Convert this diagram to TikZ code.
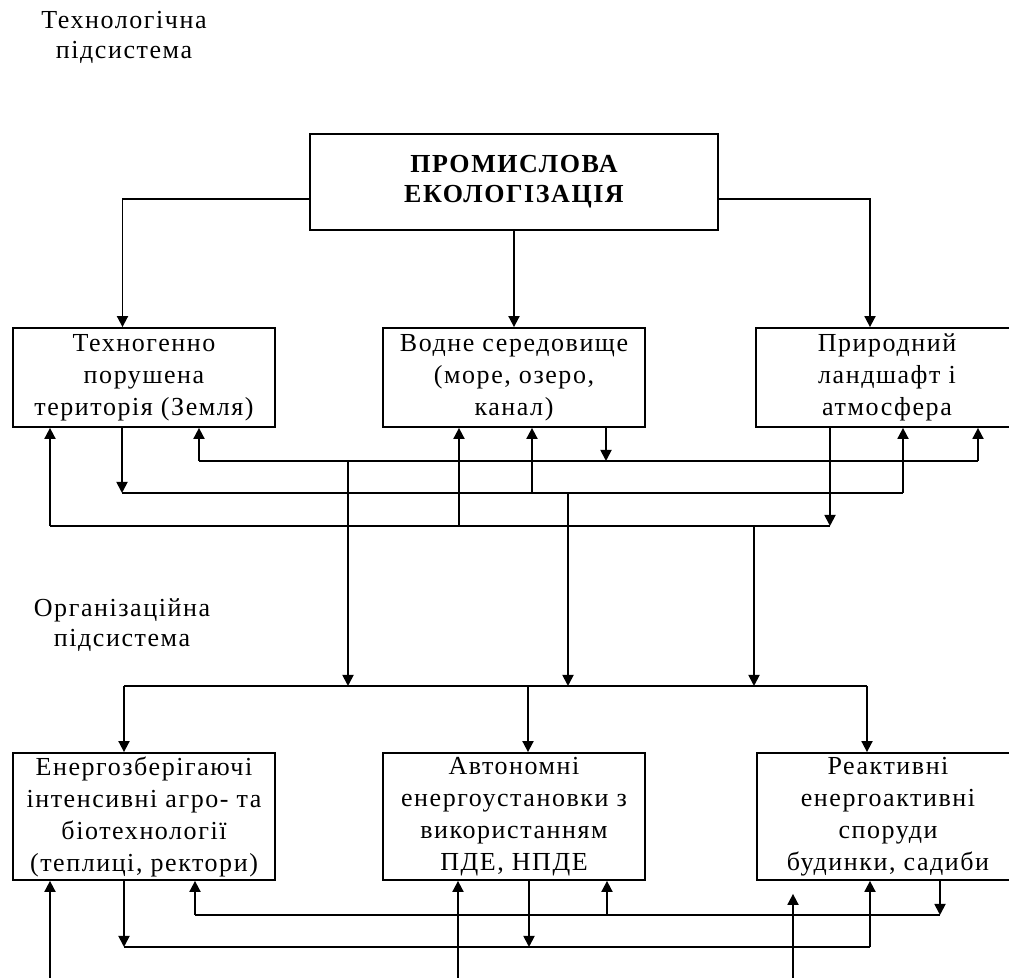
\documentclass[tikz,border=0pt]{standalone}
\usepackage{fontspec}
\setmainfont{Liberation Serif}[LetterSpace=6]
\usepackage{tikz}
\usetikzlibrary{arrows.meta}
\tikzstyle{box} = [rectangle, minimum width=131pt, minimum height=49.5pt, inner sep=0pt, align=center, draw=black, line width=0.9pt]
\tikzstyle{tallbox} = [box, minimum height=63.5pt]
\tikzstyle{mainbox} = [box, minimum width=204pt, minimum height=48pt, font=\bfseries\fontsize{13}{15}\selectfont]
\tikzstyle{caption} = [align=center, inner sep=0pt, font=\fontsize{13}{15}\selectfont]
\tikzstyle{bus} = [line width=0.9pt]
\tikzstyle{arrow} = [line width=0.9pt,-{Triangle[length=5.5pt,width=5.5pt]}]

\begin{document}
\begin{tikzpicture}[node distance=185pt, font=\fontsize{13}{16}\selectfont]
\useasboundingbox (0,0) rectangle (504.5pt,-489pt);

\node [box] (water) at (257pt,-188.75pt) {Водне середовище\\(море, озеро,\\канал)};
\node [box, left of=water] (land) {Техногенно\\порушена\\територія (Земля)};
\node [box, right of=water, xshift=1.5pt] (nature) {Природний\\ландшафт і\\атмосфера};
\node [mainbox, above of=water, yshift=-87.25pt] (prom) {ПРОМИСЛОВА\\ЕКОЛОГІЗАЦІЯ};

\node [tallbox, below of=water, yshift=-34.5pt] (auto) {Автономні\\енергоустановки з\\використанням\\ПДЕ, НПДЕ};
\node [tallbox, left of=auto] (agro) {Енергозберігаючі\\інтенсивні агро- та\\біотехнології\\(теплиці, ректори)};
\node [tallbox, right of=auto, xshift=2pt] (react) {Реактивні\\енергоактивні\\споруди\\будинки, садиби};

\node [caption, above of=land, xshift=-10pt, yshift=-14.75pt] (techsys) {Технологічна\\підсистема};
\node [caption, below of=land, xshift=-11pt, yshift=61.25pt] (orgsys) {Організаційна\\підсистема};

\coordinate (a1) at (99.5pt,-230.5pt);
\coordinate (a2) at (174pt,-230.5pt);
\coordinate (a3) at (303pt,-230.5pt);
\coordinate (a4) at (489pt,-230.5pt);
\coordinate (b1) at (61pt,-246.5pt);
\coordinate (b2) at (266pt,-246.5pt);
\coordinate (b3) at (284pt,-246.5pt);
\coordinate (b4) at (451.5pt,-246.5pt);
\coordinate (c1) at (25pt,-263pt);
\coordinate (c2) at (229.5pt,-263pt);
\coordinate (c3) at (377pt,-263pt);
\coordinate (c4) at (415pt,-263pt);
\coordinate (m1) at (62pt,-343pt);
\coordinate (m2) at (264pt,-343pt);
\coordinate (m3) at (433.5pt,-343pt);
\coordinate (d1) at (97.5pt,-457.5pt);
\coordinate (d2) at (303.5pt,-457.5pt);
\coordinate (d3) at (470pt,-457.5pt);
\coordinate (e1) at (62pt,-473.5pt);
\coordinate (e2) at (264.5pt,-473.5pt);
\coordinate (e3) at (435pt,-473.5pt);
\coordinate (f1) at (25pt,-489pt);
\coordinate (f2) at (229pt,-489pt);
\coordinate (f3) at (396.5pt,-489pt);

\draw [arrow] ([yshift=-8.5pt]prom.west) -| ([xshift=-10.75pt]land.north);
\draw [arrow] (prom.south) -- (water.north);
\draw [arrow] ([yshift=-8.5pt]prom.east) -| ([xshift=-8.5pt]nature.north);

\draw [bus] (a1) -- (a4);
\draw [arrow] (a1) -- (a1 |- land.south);
\draw [arrow] (a3 |- water.south) -- (a3);
\draw [arrow] (a4) -- (a4 |- nature.south);
\draw [arrow] (a2) -- (a2 |- m1);

\draw [bus] (b1) -- (b4);
\draw [arrow] (b1 |- land.south) -- (b1);
\draw [arrow] (b2) -- (b2 |- water.south);
\draw [arrow] (b4) -- (b4 |- nature.south);
\draw [arrow] (b3) -- (b3 |- m1);

\draw [bus] (c1) -- (c4);
\draw [arrow] (c1) -- (c1 |- land.south);
\draw [arrow] (c2) -- (c2 |- water.south);
\draw [arrow] (c4 |- nature.south) -- (c4);
\draw [arrow] (c3) -- (c3 |- m1);

\draw [bus] (m1) -- (m3);
\draw [arrow] (m1) -- (m1 |- agro.north);
\draw [arrow] (m2) -- (m2 |- auto.north);
\draw [arrow] (m3) -- (m3 |- react.north);

\draw [bus] (d1) -- (d3);
\draw [arrow] (d1) -- (d1 |- agro.south);
\draw [arrow] (d2) -- (d2 |- auto.south);
\draw [arrow] (d3 |- react.south) -- (d3);

\draw [bus] (e1) -- (e3);
\draw [arrow] (e1 |- agro.south) -- (e1);
\draw [arrow] (e2 |- auto.south) -- (e2);
\draw [arrow] (e3) -- (e3 |- react.south);

\draw [arrow] (f1) -- (f1 |- agro.south);
\draw [arrow] (f2) -- (f2 |- auto.south);
\draw [arrow, shorten >=6.5pt] (f3) -- (f3 |- react.south);

\end{tikzpicture}
\end{document}
